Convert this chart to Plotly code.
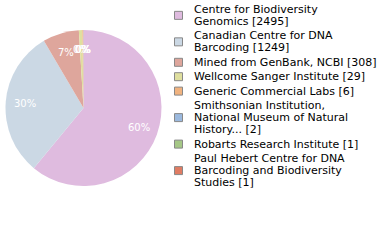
import math
import textwrap
import plotly.graph_objects as go

labels = [
    "Centre for Biodiversity Genomics",
    "Canadian Centre for DNA Barcoding",
    "Mined from GenBank, NCBI",
    "Wellcome Sanger Institute",
    "Generic Commercial Labs",
    "Smithsonian Institution, National Museum of Natural History...",
    "Robarts Research Institute",
    "Paul Hebert Centre for DNA Barcoding and Biodiversity Studies",
]
values = [2495, 1249, 308, 29, 6, 2, 1, 1]
colors = ["#dfbbdf", "#cbd8e4", "#dea69c", "#dfdf9f", "#f1b37f", "#9bb9de", "#a5c786", "#e07c63"]

FONT = "DejaVu Sans"
W, H = 380, 240
total = sum(values)
pct_text = [f"{math.floor(v * 100 / total)}%" for v in values]

# pie placement (pixels)
px0, px1, py0, py1 = 5, 162, 30, 186
cx, cy = (px0 + px1) / 2, (py0 + py1) / 2
R = min(px1 - px0, py1 - py0) / 2

fig = go.Figure()
fig.add_trace(go.Pie(
    labels=labels,
    values=values,
    textinfo="none",
    sort=False,
    direction="clockwise",
    rotation=0,
    marker=dict(colors=colors, line=dict(width=0)),
    domain=dict(x=[px0 / W, px1 / W], y=[1 - py1 / H, 1 - py0 / H]),
    showlegend=False,
    hoverinfo="label+value+percent",
))

annotations = []
shapes = []

# percentage labels at 0.75 R along each slice's mid angle
cum = 0
for v, t in zip(values, pct_text):
    mid = (cum + v / 2) / total * 2 * math.pi
    cum += v
    lx = cx + 0.75 * R * math.sin(mid)
    ly = cy - 0.75 * R * math.cos(mid)
    annotations.append(dict(
        x=lx / W, y=1 - ly / H, xref="paper", yref="paper",
        xanchor="center", yanchor="middle", showarrow=False,
        text=t, font=dict(family=FONT, size=10, color="white"),
    ))

# manual legend
y = 9.3
sq_x0, sq_x1 = 174.5, 182.5
text_x = 192
for i, (lab, val, col) in enumerate(zip(labels, values, colors)):
    lines = textwrap.wrap(f"{lab} [{val}]", 30)
    ys = []
    for j, line in enumerate(lines):
        if j > 0:
            y += 12.1
        ys.append(y)
        annotations.append(dict(
            x=text_x / W, y=1 - y / H, xref="paper", yref="paper",
            xanchor="left", yanchor="middle", showarrow=False,
            text=line, font=dict(family=FONT, size=11, color="black"),
        ))
    yc = (ys[0] + ys[-1]) / 2
    shapes.append(dict(
        type="rect", xref="paper", yref="paper",
        x0=sq_x0 / W, x1=sq_x1 / W, y0=1 - (yc - 4) / H, y1=1 - (yc + 4) / H,
        fillcolor=col, line=dict(color="#888888", width=1),
    ))
    y += 14.4

fig.update_layout(
    width=W, height=H,
    margin=dict(l=0, r=0, t=0, b=0),
    paper_bgcolor="white", plot_bgcolor="white",
    shapes=shapes, annotations=annotations,
)
fig.write_html("out.html")
